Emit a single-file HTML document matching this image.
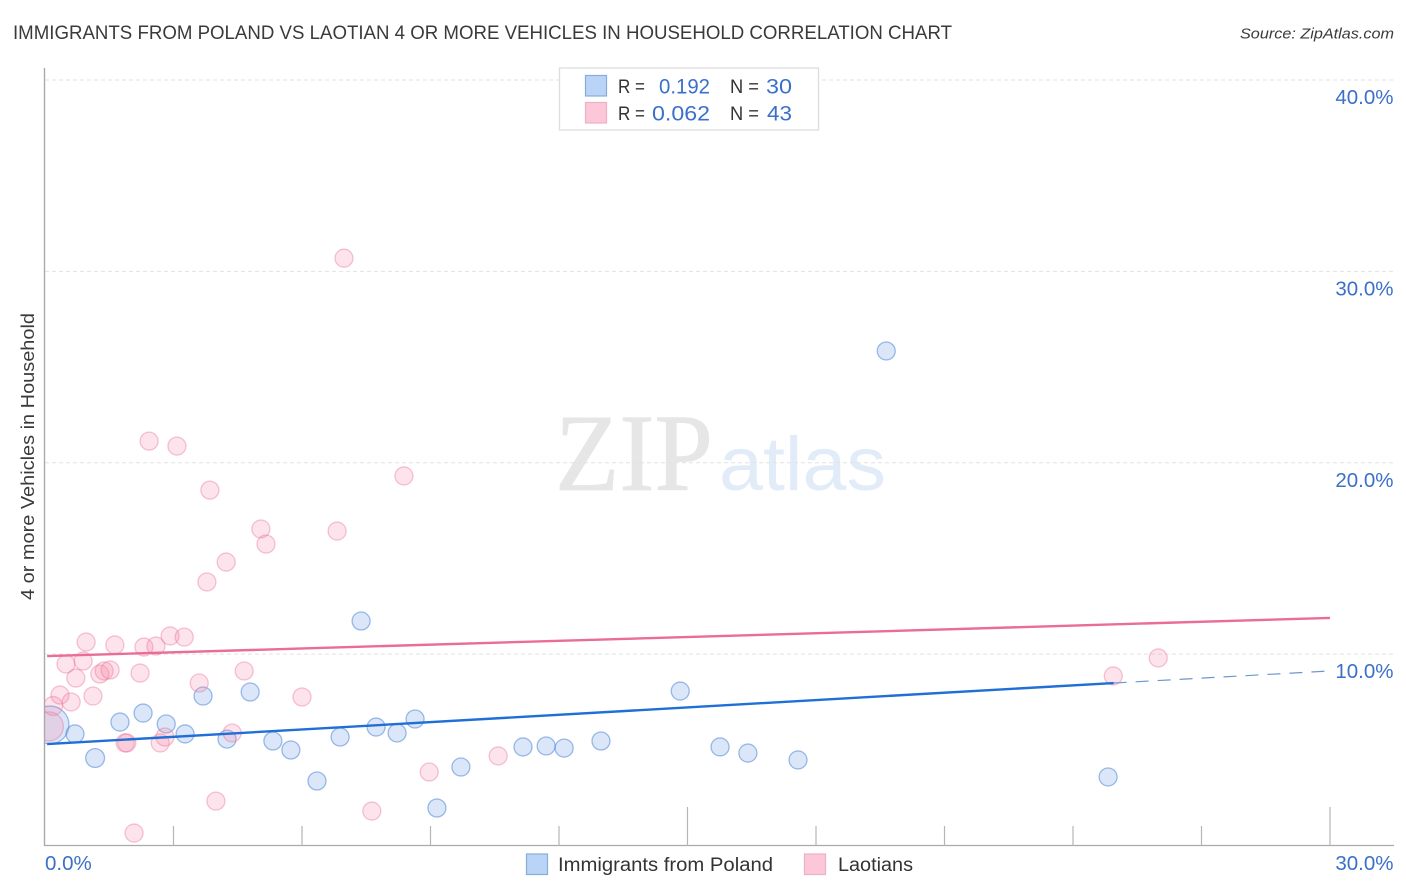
<!DOCTYPE html>
<html lang="en">
<head>
<meta charset="utf-8">
<title>Immigrants from Poland vs Laotian 4 or more Vehicles in Household Correlation Chart</title>
<style>
html,body{margin:0;padding:0;background:#fff;}
svg{display:block;font-family:"Liberation Sans",sans-serif;}
</style>
</head>
<body>
<svg id="chart" xmlns="http://www.w3.org/2000/svg" width="1406" height="892" viewBox="0 0 1406 892">
  <defs>
    <clipPath id="plot-clip"><rect x="45" y="60" width="1349" height="785.5"/></clipPath>
  </defs>
  <rect x="0" y="0" width="1406" height="892" fill="#ffffff"/>
  <text x="13" y="39" font-size="19" fill="#3a3a3a" textLength="939" lengthAdjust="spacingAndGlyphs">IMMIGRANTS FROM POLAND VS LAOTIAN 4 OR MORE VEHICLES IN HOUSEHOLD CORRELATION CHART</text>
  <text x="1394" y="38.5" font-size="15" font-style="italic" fill="#3a3a3a" text-anchor="end" textLength="154" lengthAdjust="spacingAndGlyphs">Source: ZipAtlas.com</text>
  <g>
    <text x="555" y="490" font-family="'Liberation Serif',serif" font-size="110" fill="#e6e6e6" stroke="#e6e6e6" stroke-width="0.8" textLength="158" lengthAdjust="spacingAndGlyphs">ZIP</text>
    <text x="719" y="490" font-size="76" fill="#e2ecf9" textLength="167" lengthAdjust="spacingAndGlyphs">atlas</text>
  </g>
  <g id="grid"></g>
  <g id="axes"></g>
  <g id="points-blue" clip-path="url(#plot-clip)"></g>
  <g id="points-pink" clip-path="url(#plot-clip)"></g>
  <g id="trends"></g>
  <g id="labels"></g>
  <text transform="translate(34 456.5) rotate(-90)" font-size="18.5" fill="#3a3a3a" text-anchor="middle" textLength="287" lengthAdjust="spacingAndGlyphs">4 or more Vehicles in Household</text>

  <g>
    <rect x="559.5" y="68" width="259" height="62" fill="#ffffff" stroke="#dddddd" stroke-width="1.3"/>
    <rect x="585.5" y="75.5" width="21" height="20.5" fill="#b9d4f7" stroke="#86add9" stroke-width="1.2"/>
    <rect x="585.5" y="102.5" width="21" height="20.5" fill="#fcc8d9" stroke="#eeb0c4" stroke-width="1.2"/>
    <text x="618" y="93" font-size="19" fill="#333333" textLength="27" lengthAdjust="spacingAndGlyphs">R =</text>
    <text x="710" y="93.5" font-size="21" fill="#3b70c9" text-anchor="end" textLength="51" lengthAdjust="spacingAndGlyphs">0.192</text>
    <text x="730" y="93" font-size="19" fill="#333333" textLength="29" lengthAdjust="spacingAndGlyphs">N =</text>
    <text x="792" y="93.5" font-size="21" fill="#3b70c9" text-anchor="end" textLength="26" lengthAdjust="spacingAndGlyphs">30</text>
    <text x="618" y="120" font-size="19" fill="#333333" textLength="27" lengthAdjust="spacingAndGlyphs">R =</text>
    <text x="710" y="120.5" font-size="21" fill="#3b70c9" text-anchor="end" textLength="58" lengthAdjust="spacingAndGlyphs">0.062</text>
    <text x="730" y="120" font-size="19" fill="#333333" textLength="29" lengthAdjust="spacingAndGlyphs">N =</text>
    <text x="792" y="120.5" font-size="21" fill="#3b70c9" text-anchor="end" textLength="25" lengthAdjust="spacingAndGlyphs">43</text>
  </g>

  <g>
    <g>
      <rect x="526.5" y="854" width="21" height="20.5" fill="#b9d4f7" stroke="#86add9" stroke-width="1.2"/>
      <text x="558" y="871" font-size="19" fill="#333333" textLength="215" lengthAdjust="spacingAndGlyphs">Immigrants from Poland</text>
    </g>
    <g>
      <rect x="804.5" y="854" width="21" height="20.5" fill="#fcc8d9" stroke="#eeb0c4" stroke-width="1.2"/>
      <text x="838" y="871" font-size="19" fill="#333333" textLength="75" lengthAdjust="spacingAndGlyphs">Laotians</text>
    </g>
  </g>
</svg>
<script>
const polandX = [0.12,0.70,1.17,1.75,2.29,2.83,3.27,3.69,4.25,4.79,5.32,5.74,6.35,6.89,7.38,7.73,8.22,8.64,9.15,9.71,11.16,11.70,12.12,12.98,14.83,15.76,16.41,17.58,19.64,24.82];
const polandY = [6.30,5.83,4.57,6.45,6.92,6.35,5.83,7.81,5.56,8.02,5.46,4.99,3.37,5.67,11.73,6.19,5.88,6.61,1.96,4.10,5.15,5.20,5.09,5.46,8.07,5.15,4.83,4.47,25.84,3.58];
const polandWeight = [4.4,1,1.1,1,1,1,1,1,1,1,1,1,1,1,1,1,1,1,1,1,1,1,1,1,1,1,1,1,1,1];
const laotianX = [0.09,0.19,0.35,0.49,0.61,0.72,0.89,0.96,1.12,1.28,1.38,1.52,1.63,1.87,1.91,2.08,2.22,2.31,2.43,2.59,2.69,2.80,2.92,3.08,3.25,3.60,3.78,3.85,3.99,4.23,4.37,4.65,5.04,5.16,6.00,6.82,6.98,7.63,8.38,8.97,10.58,24.94,25.99];
const laotianY = [6.22,7.29,7.86,9.48,7.50,8.75,9.64,10.63,7.81,8.96,9.12,9.17,10.48,5.36,5.36,0.65,9.01,10.37,21.13,10.42,5.36,5.67,10.95,20.87,10.89,8.49,13.77,18.57,2.32,14.81,5.88,9.12,16.54,15.75,7.76,16.43,30.69,1.80,19.31,3.84,4.68,8.86,9.80];
const laotianWeight = [2.6,1.1,1,1,1,1,1,1,1,1,1,1,1,1,1,1,1,1,1,1,1,1,1,1,1,1,1,1,1,1,1,1,1,1,1,1,1,1,1,1,1,1,1];
const polandTrendX = [0.05,24.95];
const polandTrendY = [5.30,8.49];
const polandForecastX = [24.95,30];
const polandForecastY = [8.49,9.12];
const laotianTrendX = [0.05,30];
const laotianTrendY = [9.90,11.89];
const yGridValues = [10,20,30,40];
const yTickLabels = ["10.0%","20.0%","30.0%","40.0%"];
const xTickValues = [3,6,9,12,15,18,21,24,27,30];
const xMajorTicks = [15,30];
const xEndValues = [0,30];
const xEndLabels = ["0.0%","30.0%"];

const NS = 'http://www.w3.org/2000/svg';
const xScale = v => 45 + v * (1330 - 45) / 30;
const yScale = v => 845.5 - v * (845.5 - 80) / 40;
const radius = w => 9 * Math.sqrt(w);
function mk(parentId, tag, attrs) {
  const el = document.createElementNS(NS, tag);
  for (const k in attrs) el.setAttribute(k, attrs[k]);
  document.getElementById(parentId).appendChild(el);
  return el;
}

yGridValues.forEach((v, i) => {
  const line = mk('grid', 'line', {x1: 45, x2: 1394, y1: yScale(v), y2: yScale(v), stroke: '#e2e2e2', 'stroke-width': 1, 'stroke-dasharray': '4 3'});
  
  
  const label = mk('labels', 'text', {x: 1393.5, y: yScale(v) + 24, 'font-size': 20.5, fill: '#3b70c9', 'text-anchor': 'end'});
  label.textContent = yTickLabels[i];
  
  
});

const yAxis = mk('axes', 'line', {x1: 44.5, x2: 44.5, y1: 68, y2: 846, stroke: '#aaaaaa', 'stroke-width': 1.4});


const xAxis = mk('axes', 'line', {x1: 44, x2: 1394, y1: 845.5, y2: 845.5, stroke: '#aaaaaa', 'stroke-width': 1.2});



xTickValues.forEach(v => {
  const top = xMajorTicks.includes(v) ? 807 : 826;
  const tick = mk('axes', 'line', {x1: xScale(v), x2: xScale(v), y1: top, y2: 845.5, stroke: '#b5b5b5', 'stroke-width': 1.2});
  
  
});

xEndValues.forEach((v, i) => {
  const last = i === xEndValues.length - 1;
  const label = mk('labels', 'text', {x: last ? 1393.5 : 45, y: 870, 'font-size': 20.5, fill: '#3b70c9', 'text-anchor': last ? 'end' : 'start'});
  label.textContent = xEndLabels[i];
  
  
});

polandX.forEach((v, i) => {
  const c = mk('points-blue', 'circle', {cx: xScale(v), cy: yScale(polandY[i]), r: radius(polandWeight[i]), fill: 'rgba(125,170,235,0.28)', stroke: 'rgba(55,120,210,0.48)', 'stroke-width': 1.3});
  
  
});
laotianX.forEach((v, i) => {
  const c = mk('points-pink', 'circle', {cx: xScale(v), cy: yScale(laotianY[i]), r: radius(laotianWeight[i]), fill: 'rgba(245,135,170,0.23)', stroke: 'rgba(232,110,150,0.40)', 'stroke-width': 1.3});
  
  
});

const forecast = mk('trends', 'line', {x1: xScale(polandForecastX[0]), y1: yScale(polandForecastY[0]), x2: xScale(polandForecastX[1]), y2: yScale(polandForecastY[1]), stroke: '#6f97cf', 'stroke-width': 1.2, 'stroke-dasharray': '13 9'});


const polandTrend = mk('trends', 'line', {x1: xScale(polandTrendX[0]), y1: yScale(polandTrendY[0]), x2: xScale(polandTrendX[1]), y2: yScale(polandTrendY[1]), stroke: '#1f6fd6', 'stroke-width': 2.4});


const laotianTrend = mk('trends', 'line', {x1: xScale(laotianTrendX[0]), y1: yScale(laotianTrendY[0]), x2: xScale(laotianTrendX[1]), y2: yScale(laotianTrendY[1]), stroke: '#ea6c9a', 'stroke-width': 2.4});


</script>
</body>
</html>
